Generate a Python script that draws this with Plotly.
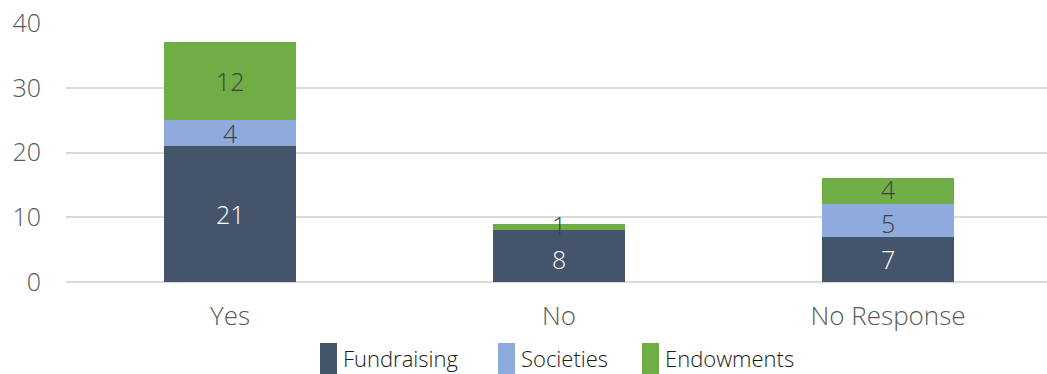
import plotly.graph_objects as go

categories = ["Yes", "No", "No Response"]
fundraising = [21, 8, 7]
societies = [4, 0, 5]
endowments = [12, 1, 4]

series = [
    ("Fundraising", fundraising, "#44546A", "#FFFFFF"),
    ("Societies", societies, "#8FAADC", "#404040"),
    ("Endowments", endowments, "#70AD47", "#404040"),
]

FONT = "Open Sans"
PLOT_TOP, PLOT_BOTTOM, Y_MAX = 23, 282, 40
PX_PER_UNIT = (PLOT_BOTTOM - PLOT_TOP) / Y_MAX
MIN_LABEL_GAP = 34  # px between stacked label centres

fig = go.Figure()
for name, vals, color, _ in series:
    fig.add_trace(go.Bar(
        name=name, x=categories, y=vals, width=0.4,
        marker=dict(color=color, line=dict(width=0)),
        showlegend=False,
    ))

# value labels centred in each segment, spread apart a little where segments are thin
for i, cat in enumerate(categories):
    labels = []
    base = 0
    for name, vals, color, tcolor in series:
        v = vals[i]
        if v > 0:
            labels.append({"y": base + v / 2, "v": v, "color": tcolor, "shift": 0.0})
        base += v
    for a, b in zip(labels, labels[1:]):
        gap = (b["y"] - a["y"]) * PX_PER_UNIT + b["shift"] - a["shift"]
        if gap < MIN_LABEL_GAP:
            push = (MIN_LABEL_GAP - gap) / 2
            a["shift"] -= push
            b["shift"] += push
    for lab in labels:
        fig.add_annotation(
            x=cat, y=lab["y"], text=str(lab["v"]),
            showarrow=False, xref="x", yref="y", yshift=lab["shift"],
            font=dict(family=FONT, size=25, color=lab["color"], weight=300),
        )

# legend row below the plot
legend_x = [320, 498, 642]
for (name, vals, color, _), lx in zip(series, legend_x):
    fig.add_shape(type="rect", xref="paper", yref="paper",
                  x0=(lx - 66) / 981, x1=(lx + 17 - 66) / 981,
                  y0=(282 - 374) / 259, y1=(282 - 343) / 259,
                  fillcolor=color, line=dict(width=0))
    fig.add_annotation(x=(lx + 21 - 66) / 981, y=(282 - 358) / 259,
                       xref="paper", yref="paper", xanchor="left", yanchor="middle",
                       text=name, showarrow=False,
                       font=dict(family=FONT, size=22, color="#1a1a1a", weight=300))

fig.update_layout(
    width=1047, height=374,
    margin=dict(l=66, r=0, t=PLOT_TOP, b=374 - PLOT_BOTTOM),
    plot_bgcolor="white", paper_bgcolor="white",
    barmode="stack", bargap=0.6,
    font=dict(family=FONT, size=25, color="#595959", weight=300),
    xaxis=dict(range=[-0.4985, 2.483], showgrid=False, showline=False,
               ticks="", ticklabelstandoff=16,
               tickfont=dict(family=FONT, size=26, color="#595959", weight=300)),
    yaxis=dict(range=[0, Y_MAX], dtick=10, showgrid=True, gridcolor="#D9D9D9",
               gridwidth=1.5, zeroline=True, zerolinecolor="#D9D9D9",
               zerolinewidth=1.5, showline=False, ticks="",
               ticklabelstandoff=24,
               tickfont=dict(family=FONT, size=25, color="#595959", weight=300)),
)

fig.write_html("out.html")
